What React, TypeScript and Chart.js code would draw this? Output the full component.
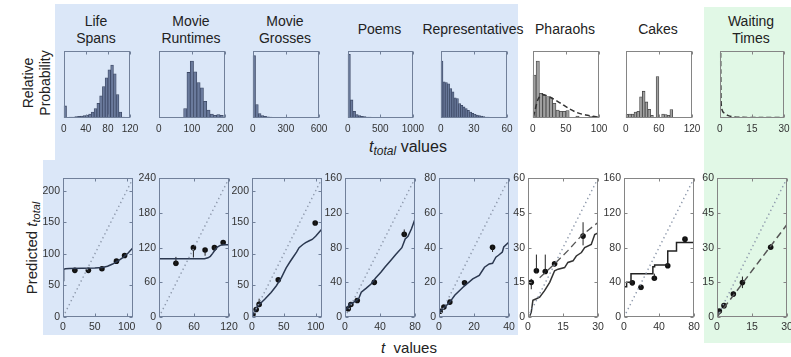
import React, { useEffect, useRef } from 'react';
import { Chart, registerables } from 'chart.js';
Chart.register(...registerables);

const FONT = "'Liberation Sans', Arial, Helvetica, sans-serif";

// ---------- Top row: prior distributions (relative probability) ----------
const lifeBins = [2.5, 7.5, 12.5, 17.5, 22.5, 27.5, 32.5, 37.5, 42.5, 47.5, 52.5, 57.5, 62.5, 67.5, 72.5, 77.5, 82.5, 87.5, 92.5, 97.5, 102.5, 107.5];
const lifeFreq = [0.18, 0.01, 0.012, 0.015, 0.02, 0.025, 0.03, 0.035, 0.045, 0.06, 0.09, 0.14, 0.22, 0.33, 0.47, 0.6, 0.72, 0.79, 0.66, 0.35, 0.09, 0.015];

const runtimeBins = [80, 90, 100, 110, 120, 130, 140, 150, 160, 170, 180, 190];
const runtimeFreq = [0.14, 0.68, 0.85, 0.69, 0.53, 0.45, 0.25, 0.12, 0.06, 0.04, 0.05, 0.04];

const grossBins = [12.5, 37.5, 62.5, 87.5, 112.5, 137.5, 162.5, 187.5, 212.5, 237.5, 262.5, 287.5, 312.5, 337.5, 362.5, 387.5];
const grossFreq = [0.93, 0.2, 0.065, 0.035, 0.025, 0.018, 0.014, 0.011, 0.009, 0.007, 0.006, 0.005, 0.004, 0.004, 0.003, 0.003];

const poemBins = [20, 60, 100, 140, 180, 220, 260, 300, 340, 380, 420, 460, 500, 540, 580, 620];
const poemFreq = [0.95, 0.27, 0.1, 0.05, 0.035, 0.025, 0.02, 0.015, 0.012, 0.01, 0.008, 0.007, 0.006, 0.005, 0.004, 0.004];

const repBins = [1, 3, 5, 7, 9, 11, 13, 15, 17, 19, 21, 23, 25, 27, 29, 31, 33, 35, 37, 39, 41, 43, 45, 47, 49];
const repFreq = [0.85, 0.54, 0.53, 0.51, 0.44, 0.39, 0.3, 0.29, 0.215, 0.19, 0.165, 0.14, 0.115, 0.09, 0.07, 0.055, 0.045, 0.035, 0.028, 0.02, 0.015, 0.012, 0.008, 0.005, 0.003];

const pharaohBins = [2.5, 7.5, 12.5, 17.5, 22.5, 27.5, 32.5, 37.5, 42.5, 47.5, 52.5, 57.5, 62.5, 67.5, 72.5, 77.5, 82.5, 87.5, 92.5, 97.5];
const pharaohFreq = [0.64, 0.85, 0.37, 0.34, 0.32, 0.3, 0.22, 0.12, 0.1, 0.1, 0.11, 0, 0, 0.03, 0, 0, 0, 0.02, 0.03, 0.015];
const pharaohFitX = [1, 3, 8, 14, 22, 32, 42, 55, 67, 80, 95, 100];
const pharaohFitY = [0.02, 0.1, 0.28, 0.35, 0.33, 0.28, 0.22, 0.14, 0.08, 0.045, 0.02, 0.015];

const cakeBins = [2.5, 7.5, 12.5, 17.5, 22.5, 27.5, 32.5, 37.5, 42.5, 47.5, 52.5, 57.5, 62.5, 67.5, 72.5, 77.5, 82.5, 87.5, 92.5, 97.5];
const cakeFreq = [0.055, 0.06, 0.06, 0.09, 0.1, 0.315, 0.4, 0.24, 0.13, 0.04, 0, 0.62, 0.01, 0.06, 0.05, 0.04, 0.125, 0.01, 0.005, 0.005];

const waitFitX = [0.4, 0.45, 0.5, 0.6, 0.9, 1.5, 2.6, 4, 6.5, 10, 20, 30];
const waitFitY = [0.97, 0.7, 0.45, 0.25, 0.14, 0.09, 0.065, 0.035, 0.015, 0.01, 0.008, 0.006];

// ---------- Bottom row: predictions ----------
const lifeT = [18.6, 39.9, 61.2, 84, 96.8];
const lifePred = [74, 74, 76.6, 88.6, 97.5];
const lifeLow = [71.5, 71.5, 74, 86, 95];
const lifeHigh = [76.5, 76.5, 79, 91, 100];
const lifeModelT = [0, 0.5, 1.5, 4, 10, 30, 50, 62, 70, 78, 86, 94, 102, 110];
const lifeModelY = [58, 72, 75.5, 76.5, 77, 77.3, 77.8, 78.5, 80.5, 84, 88.5, 94, 101, 110];
const lifeGuideT = [0, 110];
const lifeGuideY = [0, 220];

const runtimeT = [29, 59, 79, 95, 110];
const runtimePred = [93, 120, 116, 120, 129];
const runtimeLow = [88, 103, 106, 117, 126];
const runtimeHigh = [104, 122, 118, 123, 131];
const runtimeModelT = [0, 78, 84, 88, 92, 96, 100, 105, 110, 120];
const runtimeModelY = [101, 101, 102.5, 105, 110, 116, 121, 124, 125, 125];
const runtimeGuideT = [0, 120];
const runtimeGuideY = [0, 240];

const grossT = [1.5, 6.6, 11.2, 41.3, 99.3];
const grossPred = [4, 12, 20, 59, 149];
const grossLow = [3, 10, 16, 57, 146];
const grossHigh = [6, 14, 29, 61, 152];
const grossModelT = [0, 1.5, 7.6, 12.7, 20, 30, 38.3, 46, 53.7, 60, 64, 70, 74, 80, 84.3, 90, 94.6, 100, 108.5, 110];
const grossModelY = [1, 3.7, 15.6, 21, 28, 39, 49.6, 62, 78, 88, 94, 103, 110, 115, 118, 121, 123, 128, 138, 140];
const grossGuideT = [0, 110];
const grossGuideY = [0, 220];

const poemT = [3.7, 6.7, 14, 33.5, 67.7];
const poemPred = [9.6, 14.5, 19, 40, 95.5];
const poemLow = [8, 13, 17, 38, 92];
const poemHigh = [11, 16, 21, 42, 101];
const poemModelT = [0, 2, 5.6, 9, 13, 16, 18.6, 24, 29.8, 35, 41, 46, 52, 58, 65, 68.8, 72, 76, 80];
const poemModelY = [8, 9.6, 15.3, 16.5, 19, 22, 28.6, 33, 38, 45, 51.6, 58, 65, 72, 80, 90, 93, 101.7, 113];
const poemGuideT = [0, 80];
const poemGuideY = [0, 160];

const repT = [0.6, 2.8, 6.2, 14.6, 30.6];
const repPred = [3.3, 5.7, 8.6, 19.7, 40.2];
const repLow = [2.8, 5, 7.6, 18.8, 37.5];
const repHigh = [3.8, 6.4, 9.6, 20.6, 41];
const repModelT = [0, 2.4, 6.2, 9, 13.7, 19.3, 23, 26, 28.7, 30.6, 32.5, 34, 36.2, 37, 40];
const repModelY = [2.9, 4.8, 8.6, 12.5, 17.2, 22, 24, 28.7, 30.6, 31, 34.5, 35.6, 37.5, 40.4, 43.3];
const repGuideT = [0, 40];
const repGuideY = [0, 80];

const pharaohT = [1.4, 3.6, 7.4, 11.4, 23.6];
const pharaohPred = [15, 20, 19.7, 23, 35];
const pharaohLow = [12, 19, 19, 22, 31];
const pharaohHigh = [16.5, 27, 27, 24, 41];
const pharaohModelT = [0.8, 1.4, 2.1, 3.6, 5, 7.1, 9.3, 11.4, 12.9, 15.7, 17.1, 19.3, 20.7, 22.9, 24.3, 27.1, 28.6, 30];
const pharaohModelY = [0.5, 2.1, 7.2, 7.9, 8.6, 11.4, 15, 20, 20.7, 21.4, 23.6, 24.3, 26.4, 27.9, 30, 31.4, 35.7, 36.4];
const pharaohAltT = [5, 11.4, 17.1, 22.9, 30];
const pharaohAltY = [17, 23, 28.7, 35.2, 40.9];
const pharaohGuideT = [0, 30];
const pharaohGuideY = [0, 60];

const cakeT = [9.5, 19.4, 34.7, 50, 69.7];
const cakePred = [39.4, 34.4, 44.7, 59.2, 89.8];
const cakeLow = [37, 31, 42, 58, 88];
const cakeHigh = [42, 36, 50, 60, 92];
const cakeModelT = [0, 3, 8, 33, 35, 50, 60, 68, 80];
const cakeModelY = [31, 35, 40, 50, 58, 60, 76, 86, 86];
const cakeGuideT = [0, 80];
const cakeGuideY = [0, 160];

const waitT = [1, 3, 7, 10.9, 23];
const waitPred = [2.6, 4.9, 9.9, 14.9, 30.2];
const waitLow = [2, 4.2, 9, 12.5, 29];
const waitHigh = [3.3, 5.6, 11, 17.5, 31.5];
const waitModelT = [0, 30];
const waitModelY = [0, 40];
const waitGuideT = [0, 30];
const waitGuideY = [0, 60];

// ---------- helpers ----------
const pts = (xs: number[], ys: number[]) => xs.map((x, i) => ({ x, y: ys[i] }));
const errSegs = (xs: number[], lo: number[], hi: number[]) =>
  xs.flatMap((x, i) => [{ x, y: lo[i] }, { x, y: hi[i] }, { x, y: null as any }]);
const plain = (v: any) => String(v);

const BLUE_FRAME = '#71809a';
const GRAY_FRAME = '#858585';

const framePlugin = {
  id: 'frame',
  afterDatasetsDraw(chart: any, _a: any, opts: any) {
    const { ctx, chartArea: a } = chart;
    const x0 = Math.round(a.left) + 0.5, y0 = Math.round(a.top) + 0.5;
    const x1 = Math.round(a.right) - 0.5, y1 = Math.round(a.bottom) - 0.5;
    ctx.save();
    ctx.setLineDash([]);
    ctx.strokeStyle = opts.color || BLUE_FRAME;
    ctx.lineWidth = 1;
    ctx.strokeRect(x0, y0, x1 - x0, y1 - y0);
    const tl = 3;
    ctx.beginPath();
    const xs = chart.scales.x;
    xs.ticks.forEach((t: any) => {
      const px = Math.round(xs.getPixelForValue(t.value)) + 0.5;
      ctx.moveTo(px, y1); ctx.lineTo(px, y1 - tl);
      ctx.moveTo(px, y0); ctx.lineTo(px, y0 + tl);
    });
    if (opts.yTicks) {
      const ys = chart.scales.y;
      ys.ticks.forEach((t: any) => {
        const py = Math.round(ys.getPixelForValue(t.value)) + 0.5;
        ctx.moveTo(x0, py); ctx.lineTo(x0 + tl, py);
        ctx.moveTo(x1, py); ctx.lineTo(x1 - tl, py);
      });
    }
    ctx.stroke();
    ctx.restore();
  },
};

type Frame = { x: number; y: number; w: number; h: number };

function ChartBox({ frame, L, T, R, B, config }: { frame: Frame; L: number; T: number; R: number; B: number; config: any }) {
  const ref = useRef<HTMLCanvasElement>(null);
  useEffect(() => {
    const chart = new Chart(ref.current as HTMLCanvasElement, config);
    return () => chart.destroy();
  }, []);
  const W = frame.w + L + R;
  const H = frame.h + T + B;
  return (
    <canvas
      ref={ref}
      width={W}
      height={H}
      style={{ position: 'absolute', left: frame.x - L, top: frame.y - T, width: W, height: H }}
    />
  );
}

// Histogram panels
const HL = 6, HT = 6, HR = 16, HB = 20;
function histConfig(o: {
  bins?: number[]; freq?: number[]; xMax: number; xStep: number;
  fitX?: number[]; fitY?: number[]; barFill?: string; barEdge?: string; frameColor: string;
}) {
  const datasets: any[] = [];
  if (o.fitX && o.fitY) {
    datasets.push({
      type: 'line', data: pts(o.fitX, o.fitY), borderColor: '#333', borderWidth: 1.5,
      borderDash: [5, 3], pointRadius: 0, fill: false, tension: 0.3, order: 0,
    });
  }
  if (o.bins && o.freq) {
    datasets.push({
      type: 'bar', data: pts(o.bins, o.freq), backgroundColor: o.barFill, borderColor: o.barEdge,
      borderWidth: 0.8, barPercentage: 1, categoryPercentage: 1, order: 1,
    });
  }
  return {
    type: o.bins ? 'bar' : 'line',
    data: { datasets },
    options: {
      animation: false, responsive: false, devicePixelRatio: 1,
      layout: { padding: { left: HL, top: HT, right: HR, bottom: 0 } },
      plugins: { legend: { display: false }, tooltip: { enabled: false }, frame: { color: o.frameColor, yTicks: false } },
      scales: {
        x: {
          type: 'linear', offset: false, min: 0, max: o.xMax,
          grid: { display: false, drawTicks: false }, border: { display: false },
          ticks: { stepSize: o.xStep, includeBounds: false, autoSkip: false, maxRotation: 0, minRotation: 0, padding: 5, color: '#333', font: { family: FONT, size: 10 }, callback: plain },
          afterFit: (s: any) => { s.height = HB; },
        },
        y: { display: false, min: 0, max: 1 },
      },
    },
    plugins: [framePlugin],
  };
}

// Prediction panels
const PL = 26, PT = 8, PR = 16, PB = 20;
function predConfig(o: {
  t: number[]; pred: number[]; low: number[]; high: number[];
  modelT: number[]; modelY: number[]; guideT: number[]; guideY: number[];
  altT?: number[]; altY?: number[]; xMax: number; yMax: number; xStep: number; yStep: number;
  lineColor: string; dashedModel?: boolean; stepped?: boolean; frameColor: string;
}) {
  const datasets: any[] = [
    { data: pts(o.guideT, o.guideY), borderColor: '#8d98ab', borderWidth: 1.4, borderDash: [1.4, 3], pointRadius: 0, fill: false },
  ];
  if (o.altT && o.altY) {
    datasets.push({ data: pts(o.altT, o.altY), borderColor: '#555', borderWidth: 1.3, borderDash: [7, 4], pointRadius: 0, fill: false });
  }
  datasets.push({
    data: pts(o.modelT, o.modelY), borderColor: o.lineColor, borderWidth: 1.5, pointRadius: 0, fill: false,
    borderDash: o.dashedModel ? [7, 4] : [], stepped: o.stepped ? 'after' : false,
  });
  datasets.push({ data: errSegs(o.t, o.low, o.high), borderColor: '#222', borderWidth: 1, pointRadius: 0, spanGaps: false, fill: false });
  datasets.push({ data: pts(o.t, o.pred), showLine: false, pointRadius: 2.8, pointBackgroundColor: '#111', pointBorderColor: '#111', pointBorderWidth: 0 });
  const tickFont = { family: FONT, size: 10.5 };
  return {
    type: 'line',
    data: { datasets },
    options: {
      animation: false, responsive: false, devicePixelRatio: 1,
      layout: { padding: { left: 0, top: PT, right: PR, bottom: 0 } },
      plugins: { legend: { display: false }, tooltip: { enabled: false }, frame: { color: o.frameColor, yTicks: true } },
      scales: {
        x: {
          type: 'linear', min: 0, max: o.xMax,
          grid: { display: false, drawTicks: false }, border: { display: false },
          ticks: { stepSize: o.xStep, includeBounds: false, autoSkip: false, maxRotation: 0, minRotation: 0, padding: 4, color: '#333', font: tickFont, callback: plain },
          afterFit: (s: any) => { s.height = PB; },
        },
        y: {
          type: 'linear', min: 0, max: o.yMax,
          grid: { display: false, drawTicks: false }, border: { display: false },
          ticks: { stepSize: o.yStep, includeBounds: false, autoSkip: false, padding: 3, color: '#333', font: tickFont, callback: plain },
          afterFit: (s: any) => { s.width = PL; },
        },
      },
    },
    plugins: [framePlugin],
  };
}

const TOP_Y = 51, TOP_H = 67;
const BOT_Y = 177, BOT_H = 140;

const histPanels = [
  { frame: { x: 62, y: TOP_Y, w: 68, h: TOP_H }, cfg: histConfig({ bins: lifeBins, freq: lifeFreq, xMax: 120, xStep: 40, barFill: '#6a7a9c', barEdge: '#3b4763', frameColor: BLUE_FRAME }) },
  { frame: { x: 157, y: TOP_Y, w: 68, h: TOP_H }, cfg: histConfig({ bins: runtimeBins, freq: runtimeFreq, xMax: 200, xStep: 100, barFill: '#6a7a9c', barEdge: '#3b4763', frameColor: BLUE_FRAME }) },
  { frame: { x: 251, y: TOP_Y, w: 68, h: TOP_H }, cfg: histConfig({ bins: grossBins, freq: grossFreq, xMax: 600, xStep: 300, barFill: '#6a7a9c', barEdge: '#3b4763', frameColor: BLUE_FRAME }) },
  { frame: { x: 346, y: TOP_Y, w: 67, h: TOP_H }, cfg: histConfig({ bins: poemBins, freq: poemFreq, xMax: 1000, xStep: 500, barFill: '#6a7a9c', barEdge: '#3b4763', frameColor: BLUE_FRAME }) },
  { frame: { x: 439, y: TOP_Y, w: 68, h: TOP_H }, cfg: histConfig({ bins: repBins, freq: repFreq, xMax: 60, xStep: 30, barFill: '#6a7a9c', barEdge: '#3b4763', frameColor: BLUE_FRAME }) },
  { frame: { x: 531, y: TOP_Y, w: 68, h: TOP_H }, cfg: histConfig({ bins: pharaohBins, freq: pharaohFreq, fitX: pharaohFitX, fitY: pharaohFitY, xMax: 100, xStep: 50, barFill: '#a0a0a0', barEdge: '#444', frameColor: GRAY_FRAME }) },
  { frame: { x: 624, y: TOP_Y, w: 68, h: TOP_H }, cfg: histConfig({ bins: cakeBins, freq: cakeFreq, xMax: 120, xStep: 60, barFill: '#a0a0a0', barEdge: '#444', frameColor: GRAY_FRAME }) },
  { frame: { x: 718, y: TOP_Y, w: 66, h: TOP_H }, cfg: histConfig({ fitX: waitFitX, fitY: waitFitY, xMax: 30, xStep: 15, frameColor: GRAY_FRAME }) },
];

const predPanels = [
  { frame: { x: 63, y: BOT_Y, w: 70, h: BOT_H }, cfg: predConfig({ t: lifeT, pred: lifePred, low: lifeLow, high: lifeHigh, modelT: lifeModelT, modelY: lifeModelY, guideT: lifeGuideT, guideY: lifeGuideY, xMax: 110, yMax: 220, xStep: 50, yStep: 50, lineColor: '#2b3850', frameColor: BLUE_FRAME }) },
  { frame: { x: 159, y: BOT_Y, w: 70, h: BOT_H }, cfg: predConfig({ t: runtimeT, pred: runtimePred, low: runtimeLow, high: runtimeHigh, modelT: runtimeModelT, modelY: runtimeModelY, guideT: runtimeGuideT, guideY: runtimeGuideY, xMax: 120, yMax: 240, xStep: 60, yStep: 60, lineColor: '#2b3850', frameColor: BLUE_FRAME }) },
  { frame: { x: 252, y: BOT_Y, w: 70, h: BOT_H }, cfg: predConfig({ t: grossT, pred: grossPred, low: grossLow, high: grossHigh, modelT: grossModelT, modelY: grossModelY, guideT: grossGuideT, guideY: grossGuideY, xMax: 110, yMax: 220, xStep: 50, yStep: 50, lineColor: '#2b3850', frameColor: BLUE_FRAME }) },
  { frame: { x: 345, y: BOT_Y, w: 70, h: BOT_H }, cfg: predConfig({ t: poemT, pred: poemPred, low: poemLow, high: poemHigh, modelT: poemModelT, modelY: poemModelY, guideT: poemGuideT, guideY: poemGuideY, xMax: 80, yMax: 160, xStep: 40, yStep: 40, lineColor: '#2b3850', frameColor: BLUE_FRAME }) },
  { frame: { x: 439, y: BOT_Y, w: 70, h: BOT_H }, cfg: predConfig({ t: repT, pred: repPred, low: repLow, high: repHigh, modelT: repModelT, modelY: repModelY, guideT: repGuideT, guideY: repGuideY, xMax: 40, yMax: 80, xStep: 20, yStep: 20, lineColor: '#2b3850', frameColor: BLUE_FRAME }) },
  { frame: { x: 528, y: BOT_Y, w: 70, h: BOT_H }, cfg: predConfig({ t: pharaohT, pred: pharaohPred, low: pharaohLow, high: pharaohHigh, modelT: pharaohModelT, modelY: pharaohModelY, altT: pharaohAltT, altY: pharaohAltY, guideT: pharaohGuideT, guideY: pharaohGuideY, xMax: 30, yMax: 60, xStep: 15, yStep: 15, lineColor: '#333', frameColor: GRAY_FRAME }) },
  { frame: { x: 624, y: BOT_Y, w: 70, h: BOT_H }, cfg: predConfig({ t: cakeT, pred: cakePred, low: cakeLow, high: cakeHigh, modelT: cakeModelT, modelY: cakeModelY, guideT: cakeGuideT, guideY: cakeGuideY, xMax: 80, yMax: 160, xStep: 40, yStep: 40, lineColor: '#222', stepped: true, frameColor: GRAY_FRAME }) },
  { frame: { x: 717, y: BOT_Y, w: 70, h: BOT_H }, cfg: predConfig({ t: waitT, pred: waitPred, low: waitLow, high: waitHigh, modelT: waitModelT, modelY: waitModelY, guideT: waitGuideT, guideY: waitGuideY, xMax: 30, yMax: 60, xStep: 15, yStep: 15, lineColor: '#555', dashedModel: true, frameColor: GRAY_FRAME }) },
];

const titles: { lines: string[] }[] = [
  { lines: ['Life', 'Spans'] },
  { lines: ['Movie', 'Runtimes'] },
  { lines: ['Movie', 'Grosses'] },
  { lines: ['Poems'] },
  { lines: ['Representatives'] },
  { lines: ['Pharaohs'] },
  { lines: ['Cakes'] },
  { lines: ['Waiting', 'Times'] },
];

const txt: React.CSSProperties = { position: 'absolute', fontFamily: FONT, color: '#222', whiteSpace: 'nowrap' };

export default function App() {
  return (
    <div style={{ position: 'absolute', left: 0, top: 0, width: 791, height: 357, overflow: 'hidden', background: '#fff' }}>
      {/* panel backgrounds */}
      <div style={{ position: 'absolute', left: 55, top: 4, width: 463, height: 331, background: '#dbe7f8' }} />
      <div style={{ position: 'absolute', left: 43, top: 160, width: 12, height: 175, background: '#dbe7f8' }} />
      <div style={{ position: 'absolute', left: 704, top: 7, width: 87, height: 336, background: '#e1f8e6' }} />

      {titles.map((t, i) => {
        const f = histPanels[i].frame;
        const cx = f.x + f.w / 2;
        return (
          <div key={i} style={{ ...txt, left: cx - 60, top: t.lines.length === 2 ? 12.5 : 20.5, width: 120, textAlign: 'center', fontSize: 14, lineHeight: '17px' }}>
            {t.lines.map((l, j) => <div key={j}>{l}</div>)}
          </div>
        );
      })}

      <div style={{ ...txt, left: 36.5 - 60, top: 82.5 - 17, width: 120, height: 34, textAlign: 'center', fontSize: 14, lineHeight: '17px', transform: 'rotate(-90deg)' }}>
        Relative<br />Probability
      </div>

      <div style={{ ...txt, left: 32 - 70, top: 248 - 10, width: 140, height: 20, textAlign: 'center', fontSize: 15, lineHeight: '20px', transform: 'rotate(-90deg)' }}>
        Predicted <i>t</i><span style={{ fontSize: 11, fontStyle: 'italic', position: 'relative', top: 3 }}>total</span>
      </div>

      <div style={{ ...txt, left: 408 - 60, top: 147 - 10, width: 120, height: 20, textAlign: 'center', fontSize: 16, lineHeight: '20px' }}>
        <i>t</i><span style={{ fontSize: 12, fontStyle: 'italic', position: 'relative', top: 3 }}>total</span> values
      </div>

      <div style={{ ...txt, left: 409 - 60, top: 348 - 10, width: 120, height: 20, textAlign: 'center', fontSize: 15, lineHeight: '20px' }}>
        <i>t</i>&nbsp; values
      </div>

      {histPanels.map((p, i) => (
        <ChartBox key={'h' + i} frame={p.frame} L={HL} T={HT} R={HR} B={HB} config={p.cfg} />
      ))}
      {predPanels.map((p, i) => (
        <ChartBox key={'p' + i} frame={p.frame} L={PL} T={PT} R={PR} B={PB} config={p.cfg} />
      ))}
    </div>
  );
}
